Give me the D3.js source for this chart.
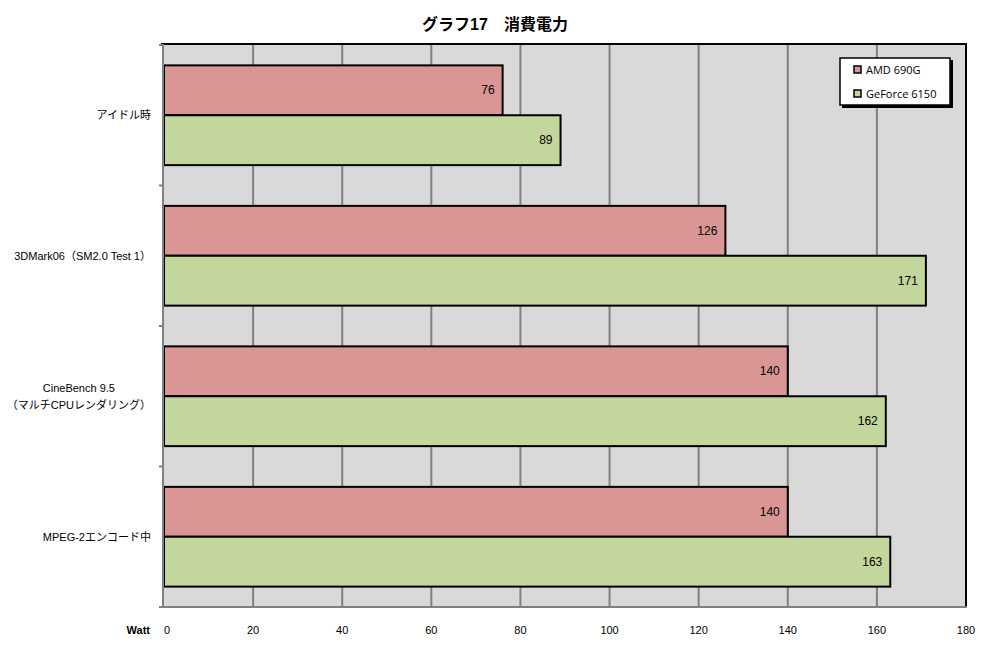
<!DOCTYPE html>
<html><head><meta charset="utf-8">
<script src="https://cdn.jsdelivr.net/npm/d3@7"></script>
<style>body{margin:0;background:#fff;} svg{display:block;}</style>
</head><body>
<script>
const categories = ["アイドル時", "3DMark06（SM2.0 Test 1）", "CineBench 9.5\n（マルチCPUレンダリング）", "MPEG-2エンコード中"];
const seriesNames = ["AMD 690G", "GeForce 6150"];
const amd690g = [76, 126, 140, 140];
const geforce6150 = [89, 171, 162, 163];
const xTicks = [0, 20, 40, 60, 80, 100, 120, 140, 160, 180];
const colors = ["#D99694", "#C3D69B"];

const W = 987, H = 648;
const svg = d3.select("body").append("svg").attr("width", W).attr("height", H);
const font = "'Liberation Sans', 'Noto Sans CJK JP', sans-serif";
const pL = 164, pR = 966, pT = 45, pB = 607;

const x = d3.scaleLinear().domain([0, 180]).range([pL, pR]);
const y = d3.scaleBand().domain(categories).range([pT, pB]).paddingInner(0.29).paddingOuter(0.145);
const ys = d3.scaleBand().domain(seriesNames).range([0, y.bandwidth()]);

svg.append("rect").attr("x", pL).attr("y", pT).attr("width", pR - pL).attr("height", pB - pT).attr("fill", "#D9D9D9");

// gridlines
svg.append("g").selectAll("line").data(xTicks.slice(1, -1)).join("line")
  .attr("x1", d => x(d)).attr("x2", d => x(d)).attr("y1", pT).attr("y2", pB)
  .attr("stroke", "#808080").attr("stroke-width", 2);

// bars
const data = [];
categories.forEach((c, i) => {
  data.push({c, s: seriesNames[0], v: amd690g[i], col: colors[0]});
  data.push({c, s: seriesNames[1], v: geforce6150[i], col: colors[1]});
});
svg.append("g").selectAll("rect").data(data).join("rect")
  .attr("x", x(0)).attr("y", d => y(d.c) + ys(d.s))
  .attr("width", d => x(d.v) - x(0)).attr("height", ys.bandwidth())
  .attr("fill", d => d.col).attr("stroke", "#000").attr("stroke-width", 2);
svg.append("g").selectAll("text").data(data).join("text")
  .attr("x", d => x(d.v) - 8).attr("y", d => y(d.c) + ys(d.s) + ys.bandwidth() / 2 + 4)
  .attr("text-anchor", "end").attr("font-family", font).attr("font-size", 12).attr("fill", "#000")
  .text(d => d.v);

// plot border: top and right black
svg.append("line").attr("x1", pL - 3).attr("x2", pR + 1).attr("y1", pT - 1).attr("y2", pT - 1).attr("stroke", "#000").attr("stroke-width", 2);
svg.append("line").attr("x1", pR).attr("x2", pR).attr("y1", pT - 2).attr("y2", pB).attr("stroke", "#000").attr("stroke-width", 2);

// y axis
const yAxisG = svg.append("g").attr("transform", `translate(${pL - 1},0)`);
yAxisG.append("line").attr("x1", 0).attr("x2", 0).attr("y1", pT - 1).attr("y2", pB + 1).attr("stroke", "#808080").attr("stroke-width", 2);
const boundaries = [pT].concat(categories.map(c => y(c) + y.bandwidth() + y.step() * y.paddingInner() / 2));
yAxisG.selectAll(".tk").data(boundaries).join("line")
  .attr("x1", -4).attr("x2", 0).attr("y1", d => d).attr("y2", d => d)
  .attr("stroke", "#808080").attr("stroke-width", 2);

// x axis (bottom, gray)
svg.append("line").attr("x1", pL - 2).attr("x2", pR + 1).attr("y1", pB).attr("y2", pB).attr("stroke", "#808080").attr("stroke-width", 2);
svg.append("g").selectAll("text").data(xTicks).join("text")
  .attr("x", d => x(d)).attr("y", 634).attr("text-anchor", d => d === 0 ? "start" : "middle")
  .attr("font-family", font).attr("font-size", 11).attr("fill", "#000")
  .text(d => d);
svg.append("text").attr("x", 150).attr("y", 634).attr("text-anchor", "end")
  .attr("font-family", font).attr("font-size", 11).attr("font-weight", "bold").text("Watt");

// category labels (multi-line blocks centred, block right edge at 151)
categories.forEach(c => {
  const lines = c.split("\n");
  const cy = y(c) + y.bandwidth() / 2;
  const g = svg.append("g");
  const ts = lines.map((ln, i) => g.append("text").attr("font-family", font).attr("font-size", 11).attr("fill", "#000")
    .attr("y", cy + 4 + (i - (lines.length - 1) / 2) * 17).text(ln));
  const widths = ts.map(t => t.node().getComputedTextLength());
  const maxW = d3.max(widths);
  ts.forEach((t, i) => t.attr("x", 151 - maxW / 2 - widths[i] / 2));
});

// title
svg.append("text").attr("x", 495).attr("y", 30).attr("text-anchor", "middle")
  .attr("font-family", font).attr("font-size", 16).attr("font-weight", "bold").text("グラフ17　消費電力");

// legend
const lg = svg.append("g").attr("transform", "translate(840,58)");
lg.append("rect").attr("x", 2).attr("y", 2).attr("width", 111).attr("height", 48).attr("fill", "#000");
lg.append("rect").attr("x", 0).attr("y", 0).attr("width", 110).attr("height", 47).attr("fill", "#fff").attr("stroke", "#000").attr("stroke-width", 1.5);
seriesNames.forEach((s, i) => {
  lg.append("rect").attr("x", 14).attr("y", 8 + i * 24).attr("width", 7).attr("height", 7)
    .attr("fill", colors[i]).attr("stroke", "#000").attr("stroke-width", 1.5);
  lg.append("text").attr("x", 26).attr("y", 16 + i * 24).attr("font-family", "'Open Sans', 'Noto Sans', sans-serif").attr("font-size", 11).text(s);
});
</script>
</body></html>
